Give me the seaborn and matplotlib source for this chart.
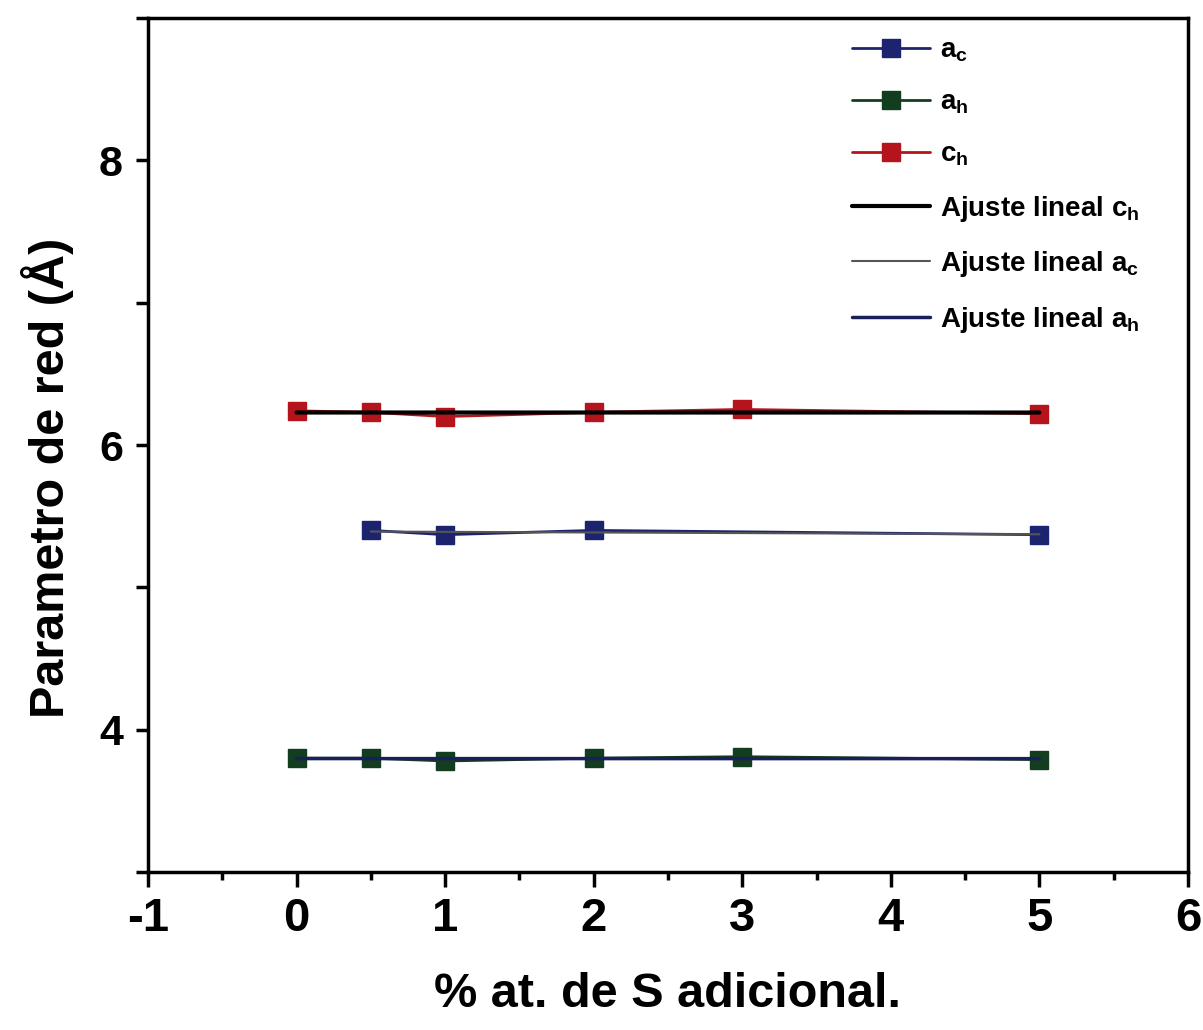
import numpy as np
import pandas as pd
import seaborn as sns
import matplotlib
matplotlib.use("Agg")
import matplotlib.pyplot as plt
from matplotlib.ticker import MultipleLocator

# Lattice parameters vs. additional sulphur content
x_ch = [0, 0.5, 1, 2, 3, 5]
c_h = [6.24, 6.23, 6.20, 6.23, 6.25, 6.22]

x_ac = [0.5, 1, 2, 5]
a_c = [5.40, 5.37, 5.40, 5.37]

x_ah = [0, 0.5, 1, 2, 3, 5]
a_h = [3.80, 3.80, 3.78, 3.80, 3.81, 3.79]

x_ticks = [-1, 0, 1, 2, 3, 4, 5, 6]
y_ticks = [4, 6, 8]

sns.set_style("ticks")
plt.rcParams["font.family"] = ["Liberation Sans", "DejaVu Sans"]
plt.rcParams["font.weight"] = "bold"
plt.rcParams["text.color"] = "black"
plt.rcParams["axes.labelcolor"] = "black"
plt.rcParams["xtick.color"] = "black"
plt.rcParams["ytick.color"] = "black"
plt.rcParams["mathtext.fontset"] = "custom"
plt.rcParams["mathtext.rm"] = "Liberation Sans:bold"
plt.rcParams["mathtext.it"] = "Liberation Sans:bold"
plt.rcParams["mathtext.bf"] = "Liberation Sans:bold"
plt.rcParams["mathtext.default"] = "rm"

fig = plt.figure(figsize=(12.03, 10.30), dpi=100)
ax = fig.add_axes([0.123, 0.1534, 0.8645, 0.8291])

red = "#b5141c"
navy = "#1c2470"
green = "#123d1f"

series = [
    (x_ac, a_c, navy, r"a$_{c}$"),
    (x_ah, a_h, green, r"a$_{h}$"),
    (x_ch, c_h, red, r"c$_{h}$"),
]
for xs, ys, col, lab in series:
    df = pd.DataFrame({"x": xs, "y": ys})
    sns.lineplot(data=df, x="x", y="y", ax=ax, color=col, lw=2,
                 marker="s", markersize=13, markeredgecolor=col,
                 markeredgewidth=1, label=lab, sort=False)

fits = [
    (x_ch, c_h, "black", 3.0, r"Ajuste lineal c$_{h}$"),
    (x_ac, a_c, "#555555", 1.5, r"Ajuste lineal a$_{c}$"),
    (x_ah, a_h, "#1a1f5a", 2.5, r"Ajuste lineal a$_{h}$"),
]
for xs, ys, col, lw, lab in fits:
    sns.regplot(x=np.array(xs), y=np.array(ys), ax=ax, scatter=False,
                ci=None, truncate=True, color=col, label=lab,
                line_kws={"lw": lw})

ax.set_xlim(-1, 6)
ax.set_ylim(3, 9)
ax.set_xticks(x_ticks)
ax.set_xticklabels([str(t) for t in x_ticks])
ax.xaxis.set_minor_locator(MultipleLocator(0.5))
ax.set_yticks(y_ticks)
ax.set_yticklabels([str(t) for t in y_ticks])
ax.yaxis.set_minor_locator(MultipleLocator(1))

ax.tick_params(axis="x", which="major", direction="out", length=11,
               width=2.5, labelsize=34, pad=7)
ax.tick_params(axis="y", which="major", direction="out", length=9,
               width=2.5, labelsize=31, pad=9)
ax.tick_params(axis="x", which="minor", direction="out", length=6, width=2.5)
ax.tick_params(axis="y", which="minor", direction="out", length=9, width=2.5)
for lbl in ax.get_xticklabels() + ax.get_yticklabels():
    lbl.set_fontweight("bold")

for s in ax.spines.values():
    s.set_linewidth(2.5)
    s.set_color("black")
    s.set_visible(True)

ax.set_xlabel("% at. de S adicional.", fontsize=35, fontweight="bold",
              labelpad=22)
ax.set_ylabel("Parametro de red (Å)", fontsize=35, fontweight="bold")
ax.yaxis.set_label_coords(-0.071, 0.461)

ax.legend(loc="upper right", frameon=False, fontsize=20, handlelength=2.8,
          handletextpad=0.35, labelspacing=0.92, borderaxespad=0.3,
          bbox_to_anchor=(0.972, 1.0))

fig.savefig("out.png", dpi=100)
